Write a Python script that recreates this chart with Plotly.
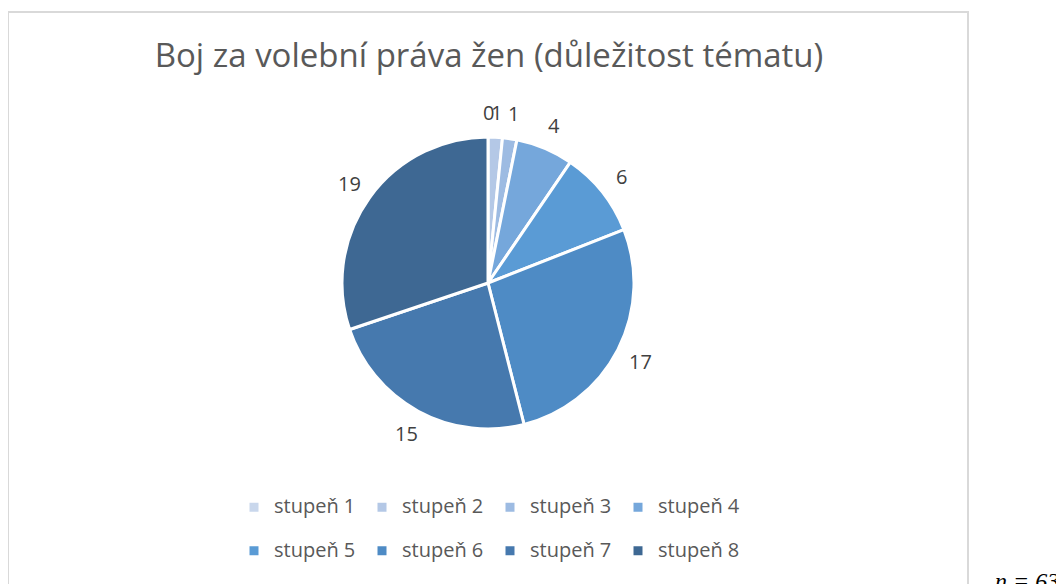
import math
import plotly.graph_objects as go

# ---------------------------------------------------------
# Data
# ---------------------------------------------------------
labels = ["stupeň 1", "stupeň 2", "stupeň 3", "stupeň 4",
          "stupeň 5", "stupeň 6", "stupeň 7", "stupeň 8"]
values = [0, 1, 1, 4, 6, 17, 15, 19]
colors = ["#c9d7ec", "#b4c8e6", "#9dbbe2", "#75a7db",
          "#5a9bd5", "#4e8bc5", "#4679ae", "#3e6893"]

title_text = "Boj za volební práva žen (důležitost tématu)"
note_text = "n = 63"

FONT = "Open Sans"

# ---------------------------------------------------------
# Geometry (figure pixels; page adds an 8px body margin)
# ---------------------------------------------------------
W, H = 1056, 576
ML, MR, MT, MB = 200, 296, 129, 155
PW, PH = W - ML - MR, H - MT - MB
R_LABEL = 171  # distance of value labels from pie centre, px

# legend: second empty line gives Excel-like row spacing
legend_labels = [f'<span style="font-size:20px">{l}</span><br> ' for l in labels]

fig = go.Figure()

fig.add_trace(
    go.Pie(
        labels=legend_labels,
        values=values,
        sort=False,
        direction="clockwise",
        rotation=0,
        marker=dict(colors=colors, line=dict(color="#ffffff", width=3)),
        textinfo="none",
        hovertext=labels,
        hoverinfo="text+value",
        domain=dict(x=[0, 1], y=[0, 1]),
    )
)

# value labels placed around the pie at the middle angle of each slice
total = sum(values)
annotations = []
cum = 0
for v in values:
    theta = 2 * math.pi * (cum + v / 2) / total
    cum += v
    annotations.append(
        dict(
            text=str(v),
            xref="paper", yref="paper",
            x=0.5 + R_LABEL * math.sin(theta) / PW,
            y=0.5 + R_LABEL * math.cos(theta) / PH,
            xanchor="center", yanchor="middle",
            showarrow=False,
            font=dict(family=FONT, size=20, color="#404040"),
        )
    )

annotations.append(
    dict(
        text=f"<i>{note_text}</i>",
        xref="paper", yref="paper",
        x=(1019 - ML) / PW,
        y=(MT + PH - 573) / PH,
        xanchor="center", yanchor="middle",
        showarrow=False,
        font=dict(family="Liberation Serif", size=24, color="#000000"),
    )
)

fig.update_layout(
    width=W,
    height=H,
    paper_bgcolor="#ffffff",
    plot_bgcolor="#ffffff",
    margin=dict(l=ML, r=MR, t=MT, b=MB, autoexpand=False),
    title=dict(
        text=title_text,
        x=481 / W,
        xanchor="center",
        y=1 - 47 / H,
        yanchor="middle",
        font=dict(family=FONT, size=33, color="#595959"),
    ),
    showlegend=True,
    legend=dict(
        orientation="h",
        xref="container",
        yref="container",
        x=226 / W,
        xanchor="left",
        y=1 - 482.5 / H,
        yanchor="top",
        entrywidth=83,
        valign="top",
        font=dict(family=FONT, size=15.6, color="#595959"),
        traceorder="normal",
    ),
    shapes=[
        dict(
            type="rect",
            xref="paper", yref="paper",
            x0=(0 - ML) / PW, x1=(960 - ML) / PW,
            y0=(MT + PH - 600) / PH, y1=(MT + PH - 4) / PH,
            line=dict(color="#d9d9d9", width=2),
            fillcolor="rgba(0,0,0,0)",
            layer="below",
        )
    ],
    annotations=annotations,
)

fig.write_html("out.html")
